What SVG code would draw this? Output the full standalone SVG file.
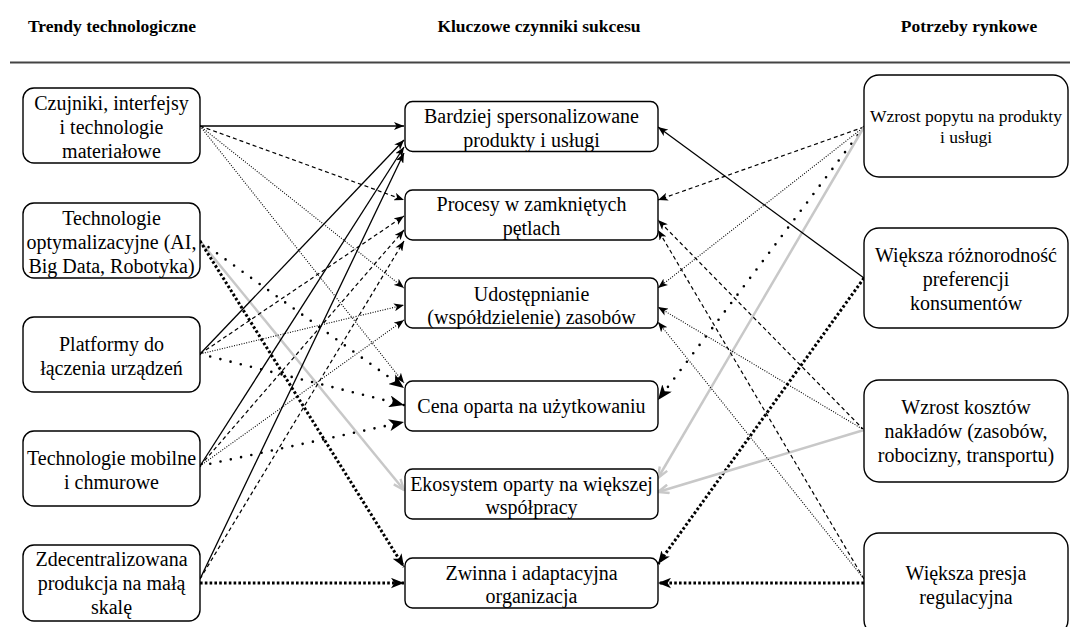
<svg xmlns="http://www.w3.org/2000/svg" width="1070" height="627" viewBox="0 0 1070 627">
  <style>
    text { font-family: "Liberation Serif", "Times New Roman", serif; fill: #000; }
    .hdr { font-size: 17.5px; font-weight: bold; text-anchor: middle; }
    .lbl { font-size: 20px; text-anchor: middle; }
    .sm { font-size: 17.5px; text-anchor: middle; }
    .box { fill: #fff; stroke: #000; stroke-width: 1.4; }
    .e { fill: none; stroke: #000; }
    .solid { stroke-width: 1.3; marker-end: url(#arr); }
    .dash { stroke-width: 1.2; stroke-dasharray: 4 3; marker-end: url(#arr); }
    .fine { stroke-width: 1.1; stroke-dasharray: 1 1.5; marker-end: url(#arr); }
    .spot { stroke-width: 2.6; stroke-linecap: round; stroke-dasharray: 0 10.5; marker-end: url(#arrBig); }
    .heavy { stroke-width: 3; stroke-dasharray: 2.6 2.2; marker-end: url(#arrHeavy); }
    .gray { stroke: #c8c8c8; stroke-width: 2.5; marker-end: url(#arrGray); }
  </style>
  <defs>
    <marker id="arr" viewBox="0 0 10 8" refX="10" refY="4" markerWidth="10" markerHeight="8" markerUnits="userSpaceOnUse" orient="auto">
      <path d="M0,0 L10,4 L0,8 L2.6,4 Z" fill="#000"/>
    </marker>
    <marker id="arrBig" viewBox="0 0 10 8" refX="10" refY="4" markerWidth="15" markerHeight="12" markerUnits="userSpaceOnUse" orient="auto">
      <path d="M0,0 L10,4 L0,8 L2.6,4 Z" fill="#000"/>
    </marker>
    <marker id="arrHeavy" viewBox="0 0 10 8" refX="10" refY="4" markerWidth="13" markerHeight="11" markerUnits="userSpaceOnUse" orient="auto">
      <path d="M0,0 L10,4 L0,8 L2.6,4 Z" fill="#000"/>
    </marker>
    <marker id="arrGray" viewBox="0 0 12 10" refX="11" refY="5" markerWidth="13" markerHeight="11" markerUnits="userSpaceOnUse" orient="auto">
      <path d="M1,1 L11,5 L1,9" fill="none" stroke="#c8c8c8" stroke-width="2.2" stroke-linejoin="miter"/>
    </marker>
  </defs>

  <!-- column headings -->
  <g id="headings">
    <text class="hdr" x="112" y="32">Trendy technologiczne</text>
    <text class="hdr" x="539" y="32">Kluczowe czynniki sukcesu</text>
    <text class="hdr" x="969" y="32">Potrzeby rynkowe</text>
    <line x1="10" y1="62.5" x2="1070" y2="62.5" stroke="#444" stroke-width="2"/>
  </g>

  <!-- connectors -->
  <g id="connectors">
    <!-- technology trends -> success factors -->
    <line class="e solid" x1="200" y1="126" x2="404" y2="126"/>
    <line class="e dash" x1="200" y1="126" x2="404" y2="200"/>
    <line class="e fine" x1="200" y1="126" x2="404" y2="288"/>
    <line class="e fine" x1="200" y1="126" x2="404" y2="383"/>

    <line class="e spot" x1="200" y1="241" x2="404" y2="388"/>
    <line class="e gray" x1="200" y1="241" x2="404" y2="490"/>
    <line class="e heavy" x1="200" y1="241" x2="404" y2="567"/>

    <line class="e solid" x1="200" y1="354" x2="404" y2="140"/>
    <line class="e dash" x1="200" y1="354" x2="404" y2="216"/>
    <line class="e fine" x1="200" y1="354" x2="404" y2="305"/>
    <line class="e spot" x1="200" y1="354" x2="404" y2="405"/>

    <line class="e solid" x1="200" y1="466" x2="404" y2="147"/>
    <line class="e dash" x1="200" y1="466" x2="404" y2="230"/>
    <line class="e fine" x1="200" y1="466" x2="404" y2="320"/>
    <line class="e spot" x1="200" y1="466" x2="404" y2="422"/>

    <line class="e solid" x1="200" y1="579" x2="404" y2="153"/>
    <line class="e dash" x1="200" y1="579" x2="404" y2="241"/>
    <line class="e heavy" x1="200" y1="583" x2="404" y2="583"/>

    <!-- market needs -> success factors -->
    <line class="e dash" x1="864" y1="127" x2="658" y2="200"/>
    <line class="e fine" x1="864" y1="127" x2="658" y2="288"/>
    <line class="e spot" x1="864" y1="127" x2="658" y2="400"/>
    <line class="e gray" x1="864" y1="127" x2="658" y2="478"/>

    <line class="e solid" x1="864" y1="278" x2="658" y2="127"/>
    <line class="e heavy" x1="864" y1="278" x2="658" y2="564"/>

    <line class="e dash" x1="864" y1="430" x2="658" y2="220"/>
    <line class="e fine" x1="864" y1="430" x2="658" y2="307"/>
    <line class="e gray" x1="864" y1="430" x2="658" y2="492"/>

    <line class="e dash" x1="864" y1="579" x2="658" y2="230"/>
    <line class="e fine" x1="864" y1="579" x2="658" y2="322"/>
    <line class="e heavy" x1="864" y1="583" x2="658" y2="583"/>
  </g>

  <!-- technology trends -->
  <g id="t1">
    <rect class="box" x="23" y="88" width="177" height="75" rx="11"/>
    <text class="lbl" x="111.5" y="110">Czujniki, interfejsy</text>
    <text class="lbl" x="111.5" y="134">i technologie</text>
    <text class="lbl" x="111.5" y="158">materiałowe</text>
  </g>
  <g id="t2">
    <rect class="box" x="23" y="203" width="177" height="75" rx="11"/>
    <text class="lbl" x="111.5" y="225">Technologie</text>
    <text class="lbl" x="111.5" y="249">optymalizacyjne (AI,</text>
    <text class="lbl" x="111.5" y="273">Big Data, Robotyka)</text>
  </g>
  <g id="t3">
    <rect class="box" x="23" y="317" width="177" height="75" rx="11"/>
    <text class="lbl" x="111.5" y="351">Platformy do</text>
    <text class="lbl" x="111.5" y="375">łączenia urządzeń</text>
  </g>
  <g id="t4">
    <rect class="box" x="23" y="431" width="177" height="75" rx="11"/>
    <text class="lbl" x="111.5" y="465">Technologie mobilne</text>
    <text class="lbl" x="111.5" y="489">i chmurowe</text>
  </g>
  <g id="t5">
    <rect class="box" x="23" y="545" width="177" height="76" rx="11"/>
    <text class="lbl" x="111.5" y="566">Zdecentralizowana</text>
    <text class="lbl" x="111.5" y="590">produkcja na małą</text>
    <text class="lbl" x="111.5" y="614">skalę</text>
  </g>

  <!-- key success factors -->
  <g id="k1">
    <rect class="box" x="405" y="101.5" width="253" height="50" rx="7.5"/>
    <text class="lbl" x="531.5" y="123">Bardziej spersonalizowane</text>
    <text class="lbl" x="531.5" y="147">produkty i usługi</text>
  </g>
  <g id="k2">
    <rect class="box" x="405" y="190" width="253" height="50" rx="7.5"/>
    <text class="lbl" x="531.5" y="211">Procesy w zamkniętych</text>
    <text class="lbl" x="531.5" y="235">pętlach</text>
  </g>
  <g id="k3">
    <rect class="box" x="405" y="278" width="253" height="50" rx="7.5"/>
    <text class="lbl" x="531.5" y="301">Udostępnianie</text>
    <text class="lbl" x="531.5" y="324">(współdzielenie) zasobów</text>
  </g>
  <g id="k4">
    <rect class="box" x="405" y="381" width="253" height="50" rx="7.5"/>
    <text class="lbl" x="531.5" y="413">Cena oparta na użytkowaniu</text>
  </g>
  <g id="k5">
    <rect class="box" x="405" y="469" width="253" height="50" rx="7.5"/>
    <text class="lbl" x="531.5" y="491">Ekosystem oparty na większej</text>
    <text class="lbl" x="531.5" y="514">współpracy</text>
  </g>
  <g id="k6">
    <rect class="box" x="405" y="558" width="253" height="50" rx="7.5"/>
    <text class="lbl" x="531.5" y="580">Zwinna i adaptacyjna</text>
    <text class="lbl" x="531.5" y="603">organizacja</text>
  </g>

  <!-- market needs -->
  <g id="m1">
    <rect class="box" x="864" y="75" width="204" height="102" rx="15"/>
    <text class="sm" x="966" y="122">Wzrost popytu na produkty</text>
    <text class="sm" x="966" y="143">i usługi</text>
  </g>
  <g id="m2">
    <rect class="box" x="864" y="228" width="204" height="100" rx="15"/>
    <text class="lbl" x="966" y="262">Większa różnorodność</text>
    <text class="lbl" x="966" y="286">preferencji</text>
    <text class="lbl" x="966" y="310">konsumentów</text>
  </g>
  <g id="m3">
    <rect class="box" x="864" y="380" width="204" height="102" rx="15"/>
    <text class="lbl" x="966" y="414">Wzrost kosztów</text>
    <text class="lbl" x="966" y="438">nakładów (zasobów,</text>
    <text class="lbl" x="966" y="462">robocizny, transportu)</text>
  </g>
  <g id="m4">
    <rect class="box" x="864" y="533" width="204" height="102" rx="15"/>
    <text class="lbl" x="966" y="580">Większa presja</text>
    <text class="lbl" x="966" y="604">regulacyjna</text>
  </g>
</svg>
